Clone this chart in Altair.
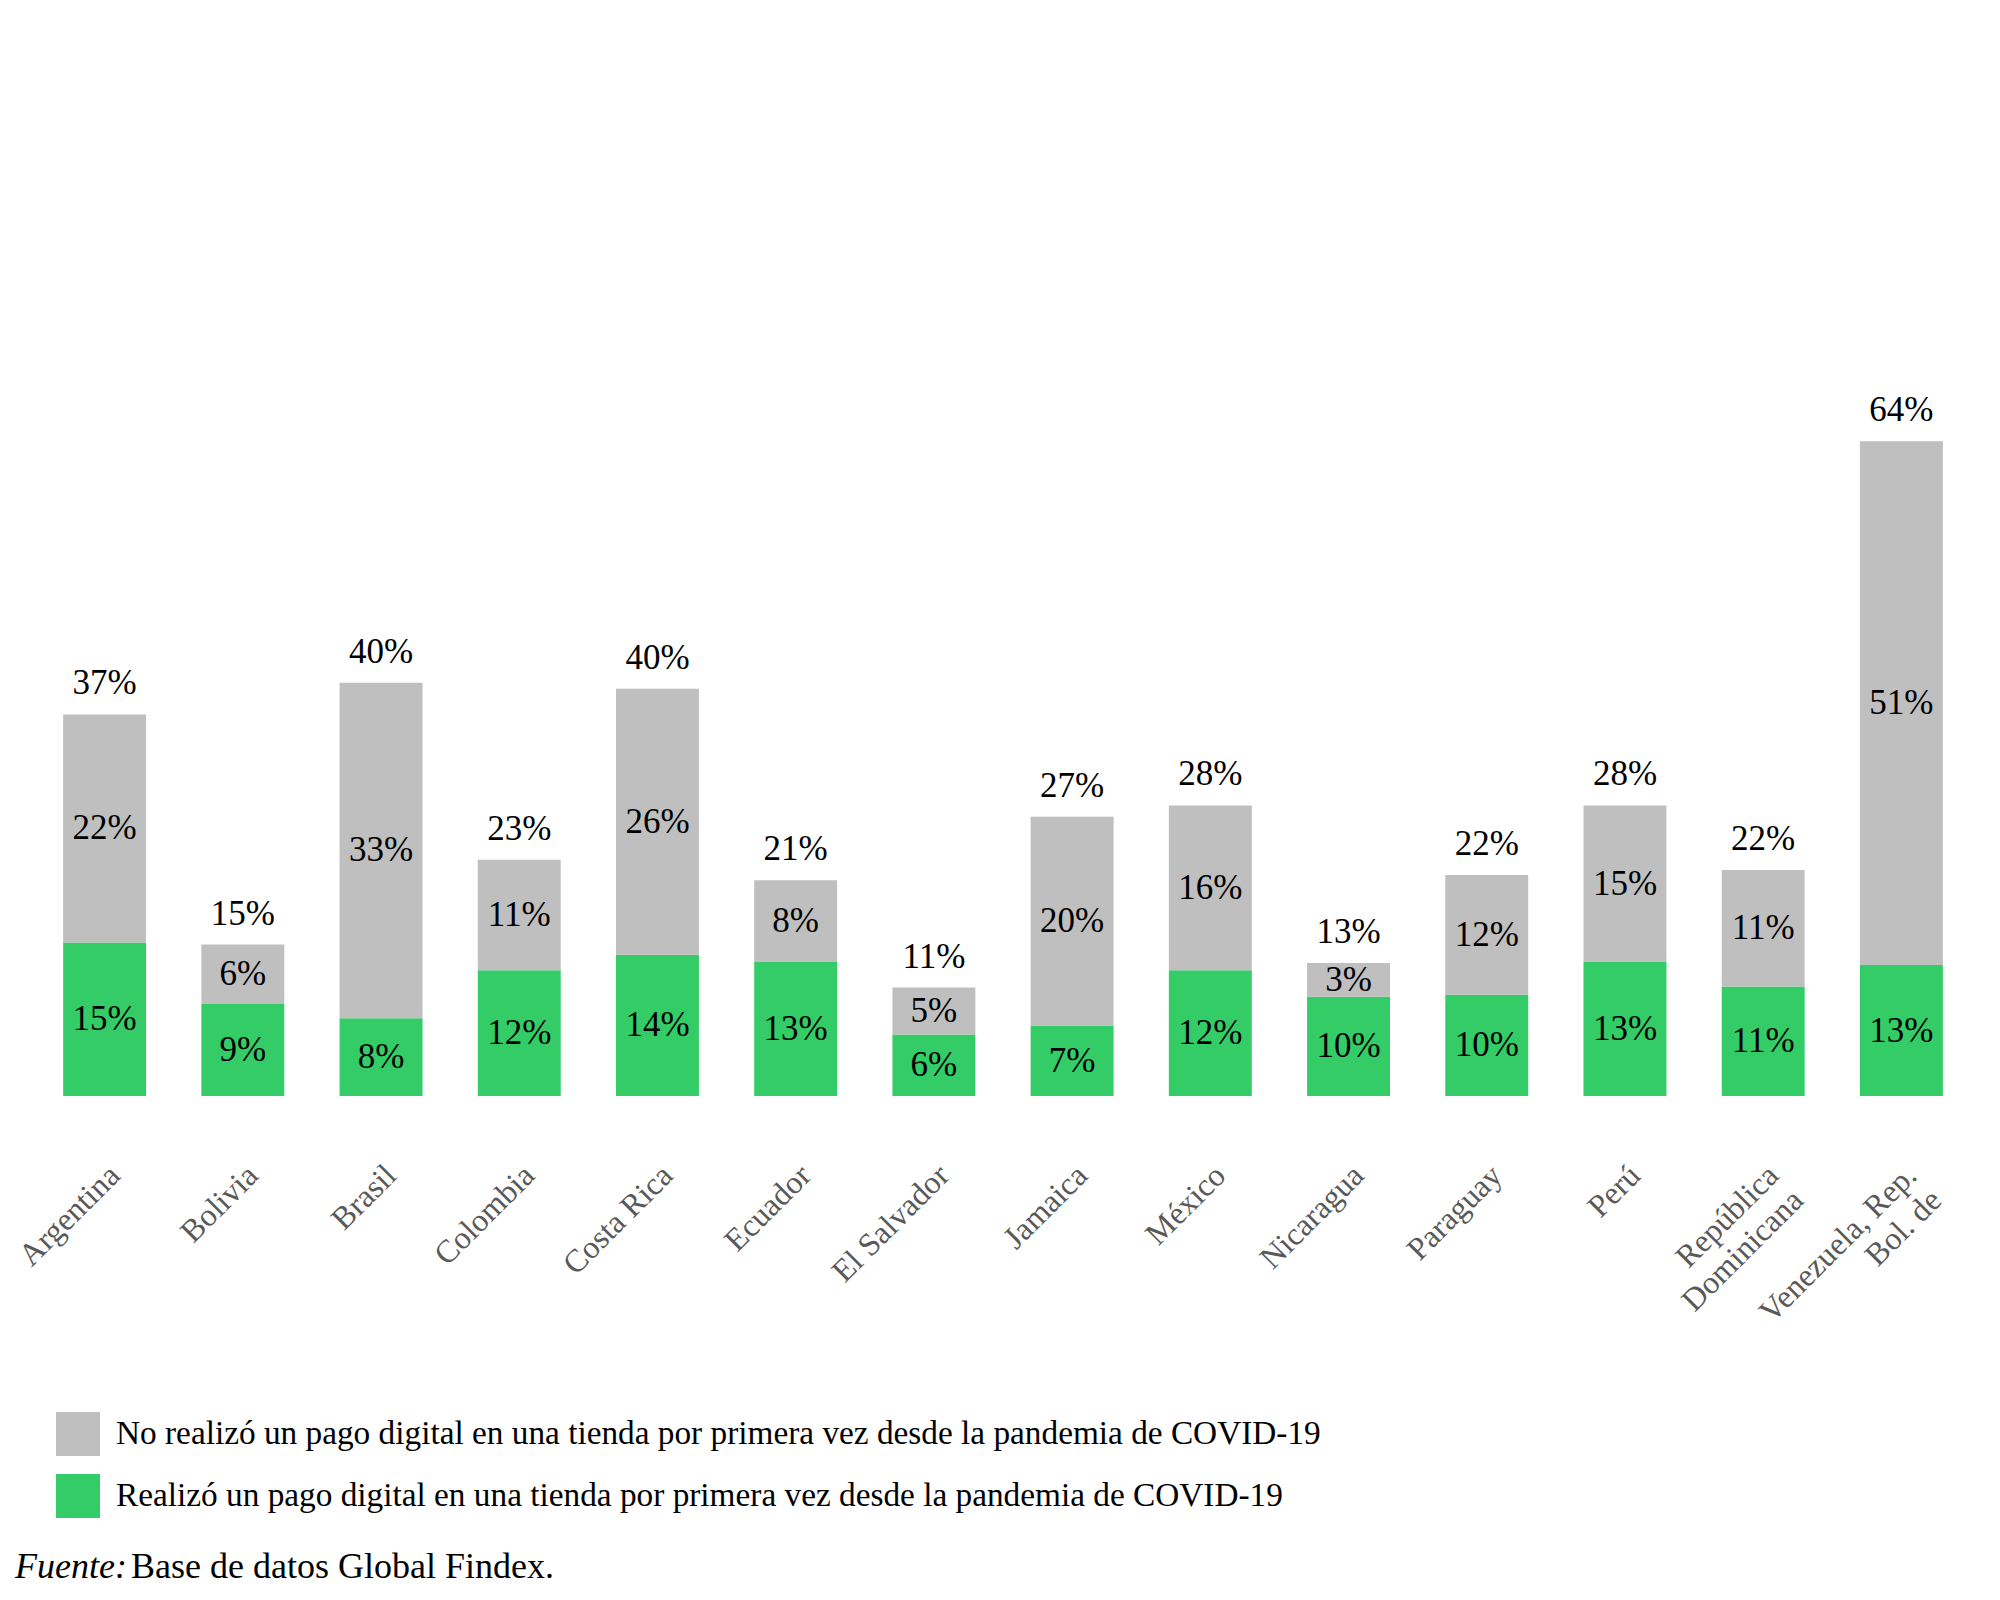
import altair as alt
import pandas as pd

countries = ["Argentina", "Bolivia", "Brasil", "Colombia", "Costa Rica", "Ecuador",
             "El Salvador", "Jamaica", "México", "Nicaragua", "Paraguay", "Perú",
             "República\nDominicana", "Venezuela, Rep.\nBol. de"]
realizo = [15.0, 9.0, 7.6, 12.3, 13.8, 13.1, 6.0, 6.9, 12.3, 9.7, 9.9, 13.1, 10.7, 12.8]
no_realizo = [22.3, 5.8, 32.8, 10.8, 26.0, 8.0, 4.6, 20.4, 16.1, 3.3, 11.7, 15.3, 11.4, 51.2]
series_names = [
    "No realizó un pago digital en una tienda por primera vez desde la pandemia de COVID-19",
    "Realizó un pago digital en una tienda por primera vez desde la pandemia de COVID-19",
]
series_colors = ["#BFBFBF", "#33CC66"]
source_label = "Fuente:"
source_text = "Base de datos Global Findex."

FONT = "Liberation Serif"

rows = []
for c, g, n in zip(countries, realizo, no_realizo):
    rows.append({"country": c, "serie": series_names[1], "value": g, "ord": 0,
                 "mid": g / 2, "lab": f"{round(g):d}%"})
    rows.append({"country": c, "serie": series_names[0], "value": n, "ord": 1,
                 "mid": g + n / 2, "lab": f"{round(n):d}%"})
long = pd.DataFrame(rows)
tot = pd.DataFrame({"country": countries,
                    "total": [g + n for g, n in zip(realizo, no_realizo)]})
tot["lab"] = [f"{round(t):d}%" for t in tot["total"]]

x_enc = alt.X("country:N", sort=countries,
              scale=alt.Scale(paddingInner=0.4, paddingOuter=0.2),
              axis=alt.Axis(title=None, domain=False, ticks=False, labelAngle=-45,
                            labelAlign="right", labelBaseline="middle",
                            labelFont=FONT, labelFontSize=32, labelColor="#595959",
                            labelPadding=74, labelOffset=10, labelLineHeight=35,
                            labelLimit=400,
                            labelExpr="split(datum.label, '\\n')"))
y_scale = alt.Scale(domain=[0, 100])

bars = alt.Chart(long).mark_bar().encode(
    x=x_enc,
    y=alt.Y("value:Q", stack="zero", scale=y_scale, axis=None),
    color=alt.Color("serie:N", scale=alt.Scale(domain=series_names, range=series_colors),
                    legend=alt.Legend(title=None, orient="none", legendX=20.5, legendY=1339,
                                      symbolType="square", symbolSize=1936,
                                      symbolStrokeWidth=0, labelFont=FONT,
                                      labelFontSize=33.3, labelColor="#000000",
                                      labelLimit=2000, rowPadding=18, labelOffset=16,
                                      padding=0)),
    order=alt.Order("ord:Q"),
)

seg_text = alt.Chart(long).mark_text(baseline="middle", font=FONT, fontSize=35,
                                     color="#000000").encode(
    x=alt.X("country:N", sort=countries),
    y=alt.Y("mid:Q", stack=None, scale=y_scale),
    text="lab:N",
)

tot_text = alt.Chart(tot).mark_text(baseline="alphabetic", dy=-20, font=FONT, fontSize=35,
                                    color="#000000").encode(
    x=alt.X("country:N", sort=countries),
    y=alt.Y("total:Q", scale=y_scale),
    text="lab:N",
)

src1 = alt.Chart(pd.DataFrame({"t": [source_label]})).mark_text(
    align="left", baseline="alphabetic", font=FONT, fontSize=36, fontStyle="italic",
    color="#000000").encode(x=alt.value(-20.5), y=alt.value(1505), text="t:N")
src2 = alt.Chart(pd.DataFrame({"t": [source_text]})).mark_text(
    align="left", baseline="alphabetic", font=FONT, fontSize=36,
    color="#000000").encode(x=alt.value(95.5), y=alt.value(1505), text="t:N")

chart = alt.layer(bars, seg_text, tot_text, src1, src2).properties(
    width=1935, height=1023,
    background="#ffffff",
    autosize=alt.AutoSizeParams(type="none"),
    padding={"left": 27.5, "top": 65, "right": 20, "bottom": 490},
).configure_view(strokeWidth=0, stroke="transparent")

chart.save("out.html", embed_options={"renderer": "svg", "actions": False})
